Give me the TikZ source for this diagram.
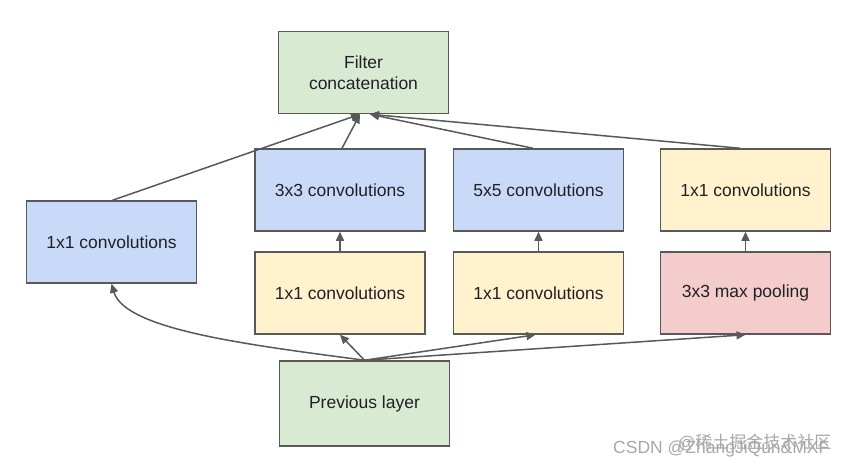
\documentclass[tikz,border=0pt]{standalone}
\usepackage{fontspec}
\setmainfont{Liberation Sans}
\newfontfamily\cjkfont{Noto Sans CJK SC}
\usetikzlibrary{arrows.meta}
\definecolor{bluefill}{HTML}{C9DAF8}
\definecolor{yellowfill}{HTML}{FFF2CC}
\definecolor{greenfill}{HTML}{D9EAD3}
\definecolor{redfill}{HTML}{F4CCCC}
\definecolor{edgegray}{HTML}{595959}
\definecolor{textdark}{HTML}{202124}
\definecolor{wmgray}{HTML}{A8A8A8}
\tikzset{
  box/.style={draw=edgegray, line width=1.5pt, minimum width=170pt, minimum height=82pt,
    inner sep=0pt, align=center, text=textdark, font=\fontsize{17.5}{21}\selectfont},
  bluebox/.style={box, fill=bluefill},
  yellowbox/.style={box, fill=yellowfill},
  greenbox/.style={box, fill=greenfill},
  redbox/.style={box, fill=redfill},
  conn/.style={draw=edgegray, line width=1.5pt, -{Triangle[length=9pt,width=8pt]}},
}
\begin{document}
\begin{tikzpicture}[x=1pt,y=-1pt]
\useasboundingbox[fill=white] (0,0) rectangle (852,466);
\node[greenbox] (concat) at (363.5,72.5) {Filter\\concatenation};
\node[bluebox] (c3) at (340,190) {3x3 convolutions};
\node[bluebox] (c5) at (538.5,190) {5x5 convolutions};
\node[yellowbox] (p1) at (745.5,190) {1x1 convolutions};
\node[bluebox] (left) at (111.5,242) {1x1 convolutions};
\node[yellowbox] (r3) at (340,293) {1x1 convolutions};
\node[yellowbox] (r5) at (538.5,293) {1x1 convolutions};
\node[redbox] (pool) at (745.5,293) {3x3 max pooling};
\node[greenbox, minimum height=85pt] (prev) at (364.5,403.5) {Previous layer};
% from previous layer
\draw[conn] (prev.north) .. controls (250,345) and (125,330) .. (left.south);
\draw[conn] (prev.north) -- (r3.south);
\draw[conn] (prev.north) -- ([xshift=-3pt]r5.south);
\draw[conn] (prev.north) -- (pool.south);
% vertical
\draw[conn] (r3.north) -- (c3.south);
\draw[conn] (r5.north) -- (c5.south);
\draw[conn] (pool.north) -- (p1.south);
% into concatenation
\draw[conn] ([xshift=1pt]left.north) -- ([xshift=-3.5pt]concat.south);
\draw[conn] ([xshift=2pt]c3.north) -- ([xshift=-3.5pt]concat.south);
\draw[conn] ([xshift=-5.5pt]c5.north) -- ([xshift=6.5pt]concat.south);
\draw[conn] ([xshift=-5.5pt]p1.north) -- ([xshift=6.5pt]concat.south);
% watermark
\node[anchor=base west, inner sep=0pt, text=wmgray, font=\fontsize{17.5}{21}\selectfont] (wm1) at (613,453) {CSDN @ZhangJiQun\&MXF};
\node[anchor=base west, inner sep=0pt, text=wmgray, font=\fontsize{17}{20}\selectfont] (wm2) at (678,448) {@\cjkfont 稀土掘金技术社区};
\end{tikzpicture}
\end{document}
